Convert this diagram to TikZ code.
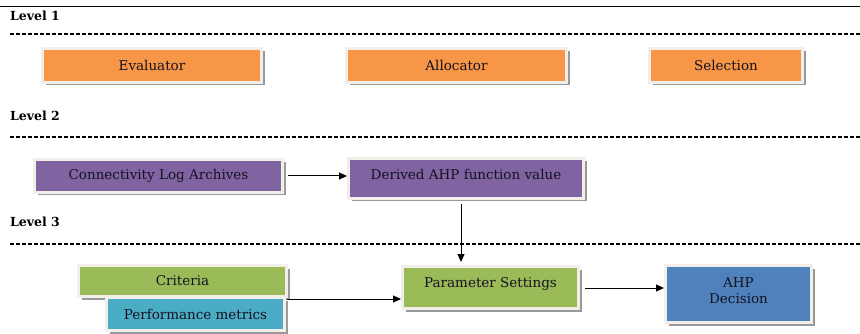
\documentclass[tikz,border=0pt]{standalone}
\usepackage{fontspec}
\setmainfont{DejaVu Serif}
\usetikzlibrary{shadows,arrows.meta}
\definecolor{orng}{HTML}{F79646}
\definecolor{purp}{HTML}{8064A2}
\definecolor{grn}{HTML}{9BBB59}
\definecolor{cyanb}{HTML}{4BACC6}
\definecolor{blu}{HTML}{4F81BD}
\definecolor{frame}{HTML}{F2EEEA}
\definecolor{txt}{HTML}{15121F}
\tikzset{
  box/.style={draw=frame, line width=3pt, inner sep=0pt, text=txt,
    font=\fontsize{13.5}{15}\selectfont, align=center,
    drop shadow={shadow xshift=3pt, shadow yshift=-3pt, fill=black!40, opacity=1}},
  lvl/.style={anchor=west, font=\bfseries\fontsize{12.5}{13}\selectfont, inner sep=0pt},
  sep/.style={line width=1.1pt, dash pattern=on 4pt off 2pt},
  arr/.style={line width=1pt, -{Triangle[length=8pt,width=7pt]}}
}
\begin{document}
\begin{tikzpicture}[x=1pt,y=-1pt]
\useasboundingbox (0,0) rectangle (860,334);
\draw[line width=1pt] (0,7) -- (860,7);
\node[lvl] (l1) at (10,16) {Level 1};
\node[lvl] (l2) at (10,116) {Level 2};
\node[lvl] (l3) at (10,222) {Level 3};
\draw[sep] (10,34) -- (860,34);
\draw[sep] (10,137) -- (860,137);
\draw[sep] (10,244) -- (860,244);
% level 1
\node[box, fill=orng, minimum width=219pt, minimum height=34pt] (ev) at (152,65.5) {Evaluator};
\node[box, fill=orng, minimum width=220pt, minimum height=34pt] (al) at (456.5,65.5) {Allocator};
\node[box, fill=orng, minimum width=153pt, minimum height=34pt] (se) at (726,65.5) {Selection};
% level 2
\node[box, fill=purp, minimum width=248pt, minimum height=33pt] (cl) at (158.5,176) {Connectivity Log Archives};
\node[box, fill=purp, minimum width=235pt, minimum height=40pt, text depth=9pt] (dv) at (466,178.5) {Derived AHP function value};
% level 3
\node[box, fill=grn, minimum width=208pt, minimum height=31pt] (cr) at (182.5,281) {Criteria};
\node[box, fill=cyanb, minimum width=178pt, minimum height=33pt] (pm) at (195.5,314) {Performance metrics};
\node[box, fill=grn, minimum width=176pt, minimum height=42pt, text depth=10pt] (ps) at (490.5,287.5) {Parameter Settings};
\node[box, fill=blu, minimum width=146pt, minimum height=57pt, text depth=7pt] (ad) at (738.5,294) {AHP\\[1pt]Decision};
% connectors
\coordinate (j) at (287,299);
\draw[arr] ([xshift=4pt]cl.east) -- (dv.west |- cl.east);
\draw[arr] (dv.south -| 461,0) ++(0,4) -- (461,262);
\draw[arr] (j) -- (ps.west |- j);
\draw[arr] ([xshift=5pt]ps.east |- 0,288) -- (ad.west |- 0,288);
\end{tikzpicture}
\end{document}
